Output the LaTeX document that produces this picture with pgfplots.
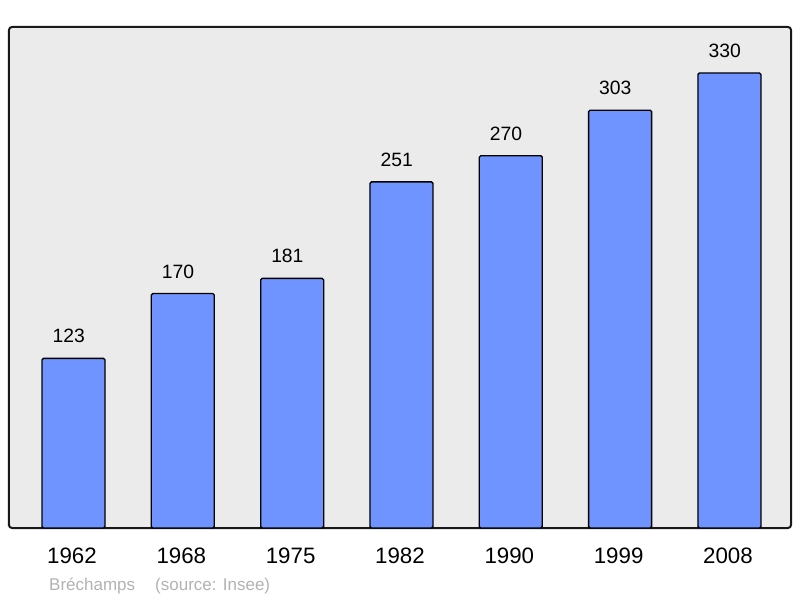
\documentclass[border=0pt]{standalone}
\usepackage{pgfplots}
\pgfplotsset{compat=1.18}
\usepackage{fontspec}
\setmainfont{Liberation Sans}
\definecolor{bgc}{RGB}{235,235,235}
\definecolor{barc}{RGB}{112,148,255}
\definecolor{foot}{RGB}{178,178,178}
\begin{document}
\begin{tikzpicture}[x=1pt,y=1pt]
\useasboundingbox (0,0) rectangle (800,598);
\begin{axis}[
  at={(9pt,70pt)}, anchor=south west,
  scale only axis, width=782pt, height=501pt,
  xmin=-0.59, xmax=6.563, ymin=0, ymax=363.3,
  ybar, bar width=63pt, bar shift=0pt,
  axis background/.style={fill=bgc},
  axis line style={line width=2pt, rounded corners=3pt, draw=black!90},
  ytick=\empty,
  xtick=data,
  xticklabels={1962,1968,1975,1982,1990,1999,2008},
  major tick length=0pt,
  /pgf/number format/assume math mode=true,
  xticklabel style={font=\fontsize{22.3}{24}\selectfont, anchor=base, yshift=-35.7pt, xshift=-1.5pt, inner sep=0pt},
  nodes near coords,
  nodes near coords style={font=\fontsize{19.3}{21}\selectfont, anchor=base, yshift=15.4pt, xshift=-4.8pt, inner sep=0pt, text=black},
  clip=false,
]
\addplot[fill=barc, draw=black, line width=1.3pt, rounded corners=1.5pt] coordinates {
  (0,123) (1,170) (2,181) (3,251) (4,270) (5,303) (6,330)
};
\end{axis}
\node[anchor=base west, inner sep=0pt, text=foot, font=\fontsize{17}{19}\selectfont] at (49,8) {Bréchamps};
\node[anchor=base west, inner sep=0pt, text=foot, font=\fontsize{17}{19}\selectfont] at (155,8) {(source: Insee)};
\end{tikzpicture}
\end{document}
